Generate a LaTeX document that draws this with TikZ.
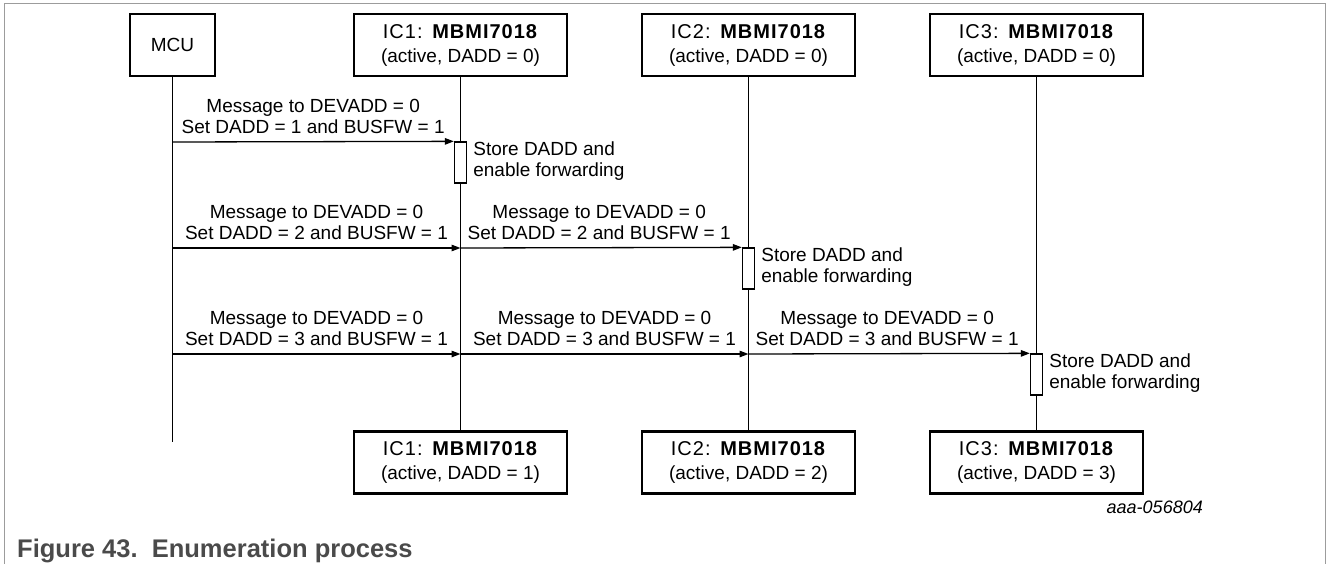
\documentclass[tikz,border=0pt]{standalone}
\usepackage{fontspec}
\setmainfont{Liberation Sans}
\usetikzlibrary{arrows.meta,calc}
\definecolor{framegray}{HTML}{9C9C9C}
\definecolor{capgray}{HTML}{4A4A4A}
\newcommand{\objhead}[1]{{\addfontfeatures{LetterSpace=5}\fontsize{20}{24}\selectfont #1}}
\begin{document}
\begin{tikzpicture}[x=1pt,y=-1pt,
  obj/.style={draw,line width=2.3pt,minimum width=213pt,minimum height=62pt,inner sep=0pt,align=center,font=\fontsize{19}{24}\selectfont},
  act/.style={draw,fill=white,line width=1.3pt,minimum width=12pt,minimum height=41pt,inner sep=0pt},
  life/.style={line width=1.3pt},
  msg/.style={line width=1.3pt,-{Triangle[length=9pt,width=6.5pt]}},
  lbl/.style={align=center,inner sep=0pt,anchor=south,font=\fontsize{19}{21}\selectfont},
  note/.style={align=left,inner sep=0pt,anchor=north west,font=\fontsize{19}{21}\selectfont},
]
\useasboundingbox (0,0) rectangle (1328,564);
\draw[framegray,line width=1pt] (4,564) -- (4,3.5) -- (1325,3.5) -- (1325,564);

% top objects
\node[obj,minimum width=85pt] (mcu) at (172.5,45) {MCU};
\node[obj] (t1) at (460.5,45) {\objhead{IC1: \textbf{MBMI7018}}\\(active, DADD = 0)};
\node[obj] (t2) at (748.5,45) {\objhead{IC2: \textbf{MBMI7018}}\\(active, DADD = 0)};
\node[obj] (t3) at (1036.5,45) {\objhead{IC3: \textbf{MBMI7018}}\\(active, DADD = 0)};
% bottom objects
\node[obj] (b1) at (460.5,462.5) {\objhead{IC1: \textbf{MBMI7018}}\\(active, DADD = 1)};
\node[obj] (b2) at (748.5,462.5) {\objhead{IC2: \textbf{MBMI7018}}\\(active, DADD = 2)};
\node[obj] (b3) at (1036.5,462.5) {\objhead{IC3: \textbf{MBMI7018}}\\(active, DADD = 3)};

% lifelines
\coordinate (m1) at (172.5,142);
\coordinate (m2) at (172.5,248);
\coordinate (m3) at (172.5,354);
\coordinate (mend) at (172.5,442);
\draw[life] (mcu.south) -- (mend);
\draw[life] (t1.south) -- (b1.north);
\draw[life] (t2.south) -- (b2.north);
\draw[life] (t3.south) -- (b3.north);

% activations
\node[act] (a1) at (460.5,162.5) {};
\node[act] (a2) at (748.5,268.5) {};
\node[act] (a3) at (1036.5,374.5) {};

% messages
\draw[msg] (m1) -- (a1.north west);
\draw[msg] (m2) -- (m2 -| t1.south);
\draw[msg] (m2 -| t1.south) -- (a2.north west);
\draw[msg] (m3) -- (m3 -| t1.south);
\draw[msg] (m3 -| t1.south) -- (m3 -| t2.south);
\draw[msg] (m3 -| t2.south) -- (a3.north west);

% message labels
\node[lbl] (l1) at ($(m1)!0.5!(a1.north west)+(0,-8)$) {Message to DEVADD = 0\\Set DADD = 1 and BUSFW = 1};
\node[lbl] (l21) at ($(m2)!0.5!(m2 -| t1.south)+(0,-8)$) {Message to DEVADD = 0\\Set DADD = 2 and BUSFW = 1};
\node[lbl] (l22) at ($(m2 -| t1.south)!0.5!(a2.north west)+(-2,-8)$) {Message to DEVADD = 0\\Set DADD = 2 and BUSFW = 1};
\node[lbl] (l31) at ($(m3)!0.5!(m3 -| t1.south)+(0,-8)$) {Message to DEVADD = 0\\Set DADD = 3 and BUSFW = 1};
\node[lbl] (l32) at ($(m3 -| t1.south)!0.5!(m3 -| t2.south)+(0,-8)$) {Message to DEVADD = 0\\Set DADD = 3 and BUSFW = 1};
\node[lbl] (l33) at ($(m3 -| t2.south)!0.5!(a3.north west)+(-2,-8)$) {Message to DEVADD = 0\\Set DADD = 3 and BUSFW = 1};

% notes
\node[note] (n1) at ($(a1.north east)+(6,0)$) {Store DADD and\\enable forwarding};
\node[note] (n2) at ($(a2.north east)+(6,0)$) {Store DADD and\\enable forwarding};
\node[note] (n3) at ($(a3.north east)+(6,0)$) {Store DADD and\\enable forwarding};

% figure id and caption
\node[anchor=base east,inner sep=0pt,font=\fontsize{18}{20}\selectfont\itshape] (fid) at (1203,513) {aaa-056804};
\node[anchor=base west,inner sep=0pt,font=\fontsize{25.5}{28}\selectfont\bfseries,text=capgray] (cap) at (17,557) {Figure 43.\ \ Enumeration process};
\end{tikzpicture}
\end{document}
